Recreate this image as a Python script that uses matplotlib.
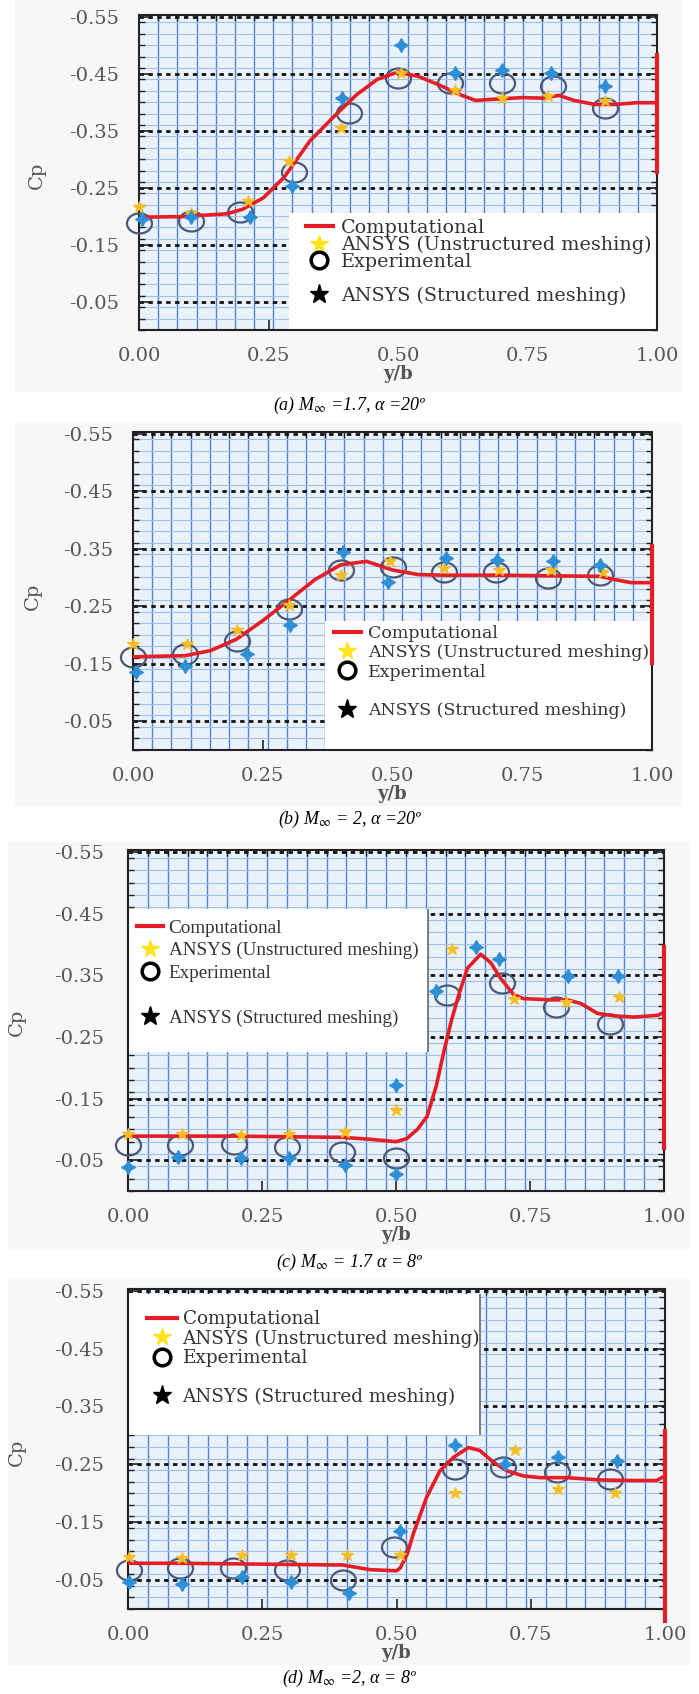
import matplotlib
matplotlib.use("Agg")
import matplotlib.pyplot as plt
from matplotlib.lines import Line2D
from matplotlib.patches import Rectangle
from matplotlib.path import Path
from matplotlib.transforms import Affine2D
from matplotlib.ticker import MultipleLocator

plt.rcParams["mathtext.fontset"] = "stix"
plt.rcParams["axes.unicode_minus"] = False

W, H = 699, 1694

# ── data (Cp vs y/b) ─────────────────────────────────────────────────────────
comp_x_a = [0.0, 0.08, 0.17, 0.2, 0.24, 0.28, 0.33, 0.38, 0.42, 0.46, 0.5, 0.54, 0.58,
            0.62, 0.65, 0.7, 0.74, 0.78, 0.81, 0.84, 0.88, 0.92, 0.96, 1.0]
comp_y_a = [-0.198, -0.199, -0.204, -0.212, -0.232, -0.268, -0.332, -0.378, -0.413, -0.44,
            -0.453, -0.445, -0.43, -0.413, -0.403, -0.406, -0.408, -0.407, -0.412, -0.403,
            -0.396, -0.396, -0.399, -0.399]
tip_y_a = [-0.483, -0.277]
exp_x_a = [0.0, 0.1, 0.195, 0.3, 0.405, 0.5, 0.6, 0.7, 0.8, 0.9]
exp_y_a = [-0.187, -0.192, -0.207, -0.277, -0.381, -0.442, -0.434, -0.434, -0.428, -0.39]
uns_x_a = [0.0, 0.1, 0.21, 0.29, 0.39, 0.505, 0.61, 0.7, 0.79, 0.9]
uns_y_a = [-0.216, -0.205, -0.227, -0.297, -0.355, -0.451, -0.422, -0.408, -0.41, -0.402]
str_x_a = [0.005, 0.1, 0.215, 0.295, 0.392, 0.505, 0.61, 0.7, 0.795, 0.9]
str_y_a = [-0.195, -0.198, -0.198, -0.253, -0.408, -0.501, -0.451, -0.457, -0.451, -0.428]

comp_x_b = [0.0, 0.1, 0.15, 0.2, 0.25, 0.3, 0.35, 0.4, 0.45, 0.5, 0.55, 0.6, 0.7, 0.8,
            0.9, 0.93, 0.96, 1.0]
comp_y_b = [-0.162, -0.164, -0.173, -0.193, -0.225, -0.26, -0.296, -0.322, -0.328, -0.313,
            -0.305, -0.304, -0.304, -0.303, -0.302, -0.296, -0.291, -0.291]
tip_y_b = [-0.354, -0.152]
exp_x_b = [0.0, 0.1, 0.2, 0.3, 0.4, 0.5, 0.6, 0.7, 0.8, 0.9]
exp_y_b = [-0.161, -0.167, -0.19, -0.246, -0.313, -0.319, -0.31, -0.31, -0.299, -0.304]
uns_x_b = [0.0, 0.105, 0.2, 0.3, 0.4, 0.495, 0.6, 0.705, 0.805, 0.905]
uns_y_b = [-0.185, -0.185, -0.208, -0.252, -0.304, -0.328, -0.316, -0.313, -0.313, -0.31]
str_x_b = [0.005, 0.1, 0.22, 0.302, 0.405, 0.491, 0.603, 0.702, 0.81, 0.9]
str_y_b = [-0.135, -0.146, -0.167, -0.217, -0.345, -0.293, -0.334, -0.331, -0.328, -0.322]

comp_x_c = [0.0, 0.1, 0.2, 0.3, 0.4, 0.45, 0.5, 0.52, 0.54, 0.558, 0.575, 0.589, 0.603,
            0.617, 0.633, 0.658, 0.677, 0.695, 0.72, 0.738, 0.789, 0.82, 0.845, 0.876,
            0.907, 0.944, 0.989, 1.0]
comp_y_c = [-0.089, -0.089, -0.089, -0.088, -0.087, -0.084, -0.08, -0.085, -0.1, -0.121,
            -0.17, -0.225, -0.275, -0.318, -0.361, -0.384, -0.37, -0.345, -0.318, -0.312,
            -0.31, -0.31, -0.304, -0.288, -0.284, -0.282, -0.285, -0.29]
tip_y_c = [-0.395, -0.07]
exp_x_c = [0.0, 0.097, 0.197, 0.297, 0.4, 0.5, 0.596, 0.698, 0.798, 0.9]
exp_y_c = [-0.074, -0.074, -0.077, -0.072, -0.064, -0.053, -0.318, -0.337, -0.299, -0.271]
uns_x_c = [0.0, 0.1, 0.21, 0.3, 0.405, 0.5, 0.605, 0.72, 0.817, 0.916]
uns_y_c = [-0.093, -0.093, -0.091, -0.093, -0.096, -0.132, -0.392, -0.312, -0.307, -0.315]
str_x_c = [0.0, 0.093, 0.21, 0.3, 0.405, 0.5, 0.5, 0.574, 0.65, 0.692, 0.82, 0.915]
str_y_c = [-0.039, -0.055, -0.053, -0.053, -0.042, -0.172, -0.028, -0.324, -0.396, -0.376,
           -0.348, -0.349]

comp_x_d = [0.0, 0.1, 0.2, 0.3, 0.4, 0.45, 0.5, 0.507, 0.52, 0.531, 0.556, 0.581, 0.606,
            0.634, 0.655, 0.68, 0.705, 0.736, 0.767, 0.817, 0.879, 0.941, 0.984, 1.0]
comp_y_d = [-0.079, -0.079, -0.078, -0.077, -0.076, -0.068, -0.066, -0.071, -0.095, -0.129,
            -0.193, -0.239, -0.262, -0.279, -0.274, -0.254, -0.239, -0.23, -0.227, -0.227,
            -0.223, -0.222, -0.222, -0.23]
tip_y_d = [-0.308, 0.02]
exp_x_d = [0.002, 0.097, 0.196, 0.296, 0.4, 0.495, 0.609, 0.699, 0.798, 0.898]
exp_y_d = [-0.067, -0.07, -0.07, -0.067, -0.05, -0.108, -0.242, -0.245, -0.236, -0.225]
uns_x_d = [0.002, 0.1, 0.213, 0.304, 0.408, 0.507, 0.609, 0.721, 0.801, 0.907]
uns_y_d = [-0.09, -0.088, -0.093, -0.093, -0.093, -0.093, -0.201, -0.274, -0.207, -0.201]
str_x_d = [0.002, 0.1, 0.213, 0.304, 0.412, 0.507, 0.609, 0.702, 0.801, 0.91]
str_y_d = [-0.047, -0.044, -0.056, -0.047, -0.027, -0.134, -0.283, -0.251, -0.262, -0.256]

y_ticks = [-0.55, -0.45, -0.35, -0.25, -0.15, -0.05]
y_ticklabels = ["-0.55", "-0.45", "-0.35", "-0.25", "-0.15", "-0.05"]
x_ticks = [0.0, 0.25, 0.5, 0.75, 1.0]
x_ticklabels = ["0.00", "0.25", "0.50", "0.75", "1.00"]
legend_labels = ["Computational", "ANSYS (Unstructured meshing)", "Experimental", "",
                 "ANSYS (Structured meshing)"]
captions = [r"(a) M$_{\infty}$ =1.7, α =20º", r"(b) M$_{\infty}$ = 2, α =20º",
            r"(c) M$_{\infty}$ = 1.7 α = 8º", r"(d) M$_{\infty}$ =2, α = 8º"]

# ── layout / style per panel (pixels of the 699x1694 image) ──────────────────
panels = [
    dict(data=(comp_x_a, comp_y_a, tip_y_a, exp_x_a, exp_y_a, uns_x_a, uns_y_a, str_x_a, str_y_a),
         rect=(139, 657, 15, 330), bg=(15, 0, 682, 392), box=(0.29, 1.0, -0.205, 0.0), box_edge=False,
         leg_at=(0.322, 0.352), leg_font=("DejaVu Serif", 13.8), hl=1.4, htp=0.45, ls=-0.06,
         ypad=14, ylab=(-0.179, 0.49), cap_y=405),
    dict(data=(comp_x_b, comp_y_b, tip_y_b, exp_x_b, exp_y_b, uns_x_b, uns_y_b, str_x_b, str_y_b),
         rect=(133, 652, 432, 750), bg=(15, 422, 682, 806), box=(0.37, 1.0, -0.225, 0.0), box_edge=False,
         leg_at=(0.387, 0.393), leg_font=("DejaVu Serif", 12.5), hl=1.55, htp=0.4, ls=0.13,
         ypad=14, ylab=(-0.176, 0.484), cap_y=819),
    dict(data=(comp_x_c, comp_y_c, tip_y_c, exp_x_c, exp_y_c, uns_x_c, uns_y_c, str_x_c, str_y_c),
         rect=(128, 664, 850, 1191), bg=(8, 842, 690, 1250), box=(0.0, 0.56, -0.458, -0.225), box_edge=True,
         leg_at=(0.017, 0.797), leg_font=("Liberation Serif", 13.8), hl=1.35, htp=0.3, ls=0.27,
         ypad=17, ylab=(-0.19, 0.496), cap_y=1262),
    dict(data=(comp_x_d, comp_y_d, tip_y_d, exp_x_d, exp_y_d, uns_x_d, uns_y_d, str_x_d, str_y_d),
         rect=(128, 665, 1289, 1609), bg=(8, 1278, 690, 1665), box=(0.0, 0.655, -0.545, -0.30), box_edge=True,
         leg_at=(0.035, 0.934), leg_font=("DejaVu Serif", 13.2), hl=1.65, htp=0.3, ls=0.07,
         ypad=17, ylab=(-0.19, 0.49), cap_y=1678),
]

RED = "#e41e26"
CIRCLE = "#4a5878"
YELLOW = "#f6be22"
BLUE = "#2d8fd5"
TXT = "#555555"

ellipse = Affine2D().scale(1.25, 1.0).transform_path(Path.unit_circle())

fig = plt.figure(figsize=(W / 100, H / 100), dpi=100)

for i, p in enumerate(panels):
    cx, cy, tip, ex, ey, ux, uy, sx, sy = p["data"]
    left, right, top, bottom = p["rect"]

    # faint grey backdrop of each original sub-figure
    bx0, by0, bx1, by1 = p["bg"]
    fig.patches.append(Rectangle((bx0 / W, 1 - by1 / H), (bx1 - bx0) / W, (by1 - by0) / H,
                                 transform=fig.transFigure, facecolor="#f7f7f7",
                                 edgecolor="none", zorder=-5))

    ax = fig.add_axes([left / W, 1 - bottom / H, (right - left) / W, (bottom - top) / H])
    ax.set_facecolor("#e9f1fb")
    ax.set_xlim(0, 1)
    ax.set_ylim(0.0, -0.553)
    ax.set_axisbelow(True)

    ax.set_xticks(x_ticks)
    ax.set_xticklabels(x_ticklabels)
    ax.set_yticks(y_ticks)
    ax.set_yticklabels(y_ticklabels)
    ax.xaxis.set_minor_locator(MultipleLocator(1 / 27))
    ax.yaxis.set_minor_locator(MultipleLocator(0.02))

    # graph-paper grid + black dotted major lines
    ax.grid(which="minor", axis="x", color="#5283d0", lw=1.0)
    ax.grid(which="minor", axis="y", color="#a3bfe6", lw=0.8)
    ax.grid(which="major", axis="y", color="#111111", lw=2.0, linestyle=(0, (1.6, 1.6)))

    ax.tick_params(which="both", direction="in", color="#222222", left=True, right=True)
    ax.tick_params(which="major", length=7, width=1.2)
    ax.tick_params(which="minor", length=4, width=1.0)
    ax.tick_params(axis="x", which="minor", bottom=False, top=True)
    ax.tick_params(axis="y", pad=p["ypad"], labelsize=14, labelcolor=TXT)
    ax.tick_params(axis="x", pad=12, labelsize=14, labelcolor=TXT)
    for lab in ax.get_xticklabels() + ax.get_yticklabels():
        lab.set_fontfamily("DejaVu Serif")
    for s in ax.spines.values():
        s.set_linewidth(1.5)
        s.set_color("#222222")

    ax.set_xlabel("y/b", fontfamily="DejaVu Serif", fontweight="bold", fontsize=13,
                  color=TXT, labelpad=0)
    ax.set_ylabel("Cp", fontfamily="DejaVu Serif", fontsize=14, color=TXT)
    ax.yaxis.set_label_coords(*p["ylab"])

    # white legend panel hiding the grid
    x0, x1, y0, y1 = p["box"]
    ax.add_patch(Rectangle((x0, y0), x1 - x0, y1 - y0, facecolor="white",
                           edgecolor="none", zorder=1))
    if p["box_edge"]:
        ax.vlines(x1, y0, y1, colors="#666666", lw=1.2, zorder=1.5)

    ax.plot(ex, ey, ls="none", marker=ellipse, ms=18, mfc="none", mec=CIRCLE, mew=1.6,
            zorder=3, clip_on=False)
    ax.plot(cx, cy, color=RED, lw=2.6, zorder=4)
    ax.plot([1.0, 1.0], tip, color=RED, lw=3, zorder=4, clip_on=False)
    ax.plot(ux, uy, ls="none", marker="*", ms=9, color=YELLOW, zorder=5, clip_on=False)
    ax.plot(sx, sy, ls="none", marker=(4, 1, 0), ms=10, color=BLUE, zorder=5, clip_on=False)

    handles = [
        Line2D([], [], color=RED, lw=3),
        Line2D([], [], ls="none", marker="*", ms=13, color="#ffe31a"),
        Line2D([], [], ls="none", marker="o", ms=12, mfc="none", mec="black", mew=2.5),
        Line2D([], [], ls="none"),
        Line2D([], [], ls="none", marker="*", ms=14, color="black"),
    ]
    fam, size = p["leg_font"]
    leg = ax.legend(handles, legend_labels, loc="upper left", bbox_to_anchor=p["leg_at"],
                    frameon=False, borderpad=0, borderaxespad=0, handlelength=p["hl"],
                    handletextpad=p["htp"], labelspacing=p["ls"],
                    prop={"family": fam, "size": size})
    leg.set_zorder(6)
    for t in leg.get_texts():
        t.set_color("#333333")

    fig.text(350 / W, 1 - p["cap_y"] / H, captions[i], ha="center", va="center",
             fontfamily="Liberation Serif", style="italic", fontsize=13)

fig.savefig("out.png", dpi=100, facecolor="white")
